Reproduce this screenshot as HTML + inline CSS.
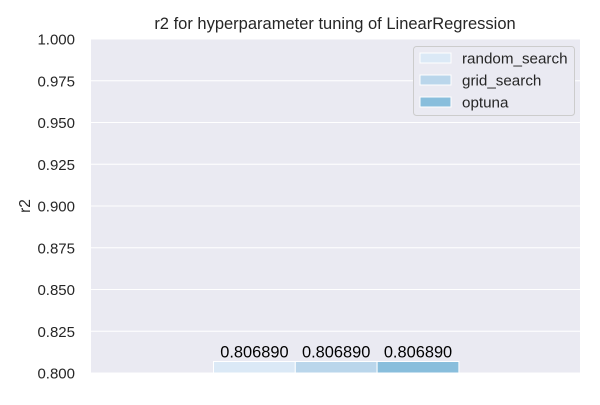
<!DOCTYPE html>
<html><head><meta charset="utf-8"><style>
body{margin:0;background:#fff;}
svg text{font-family:"Liberation Sans",sans-serif;}
</style></head><body>
<svg id="c" width="600" height="400" xmlns="http://www.w3.org/2000/svg">
<rect x="91" y="39" width="489" height="334" fill="#eaeaf2"/>
<g id="grid"></g>
<g id="bars"></g>
<text x="335" y="29" text-anchor="middle" font-size="16.5" fill="#262626">r2 for hyperparameter tuning of LinearRegression</text>
<text transform="translate(30,206) rotate(-90)" text-anchor="middle" font-size="15.5" fill="#262626">r2</text>
<g>
<rect x="413.5" y="46.5" width="161" height="69" rx="3" fill="#eaeaf2" stroke="#cccccc"/>
<g id="leg"></g>
</g>
</svg>
<script>
const categories=["random_search","grid_search","optuna"];
const values=[0.806890,0.806890,0.806890];
const labels=["0.806890","0.806890","0.806890"];
const ticks=[0.800,0.825,0.850,0.875,0.900,0.925,0.950,0.975,1.000];
const colors=["#dbe9f6","#bad6eb","#89bedc"];
const NS="http://www.w3.org/2000/svg";
const y0=373,y1=39,vmin=0.8,vmax=1.0;
function y(v){return y0-(v-vmin)/(vmax-vmin)*(y0-y1);}
const bx0=213.5,bw=81.8;
function x(i){return bx0+i*bw;}
function mk(t,a,p){const e=document.createElementNS(NS,t);for(const k in a)e.setAttribute(k,a[k]);p.appendChild(e);return e;}
const g=document.getElementById('grid');
ticks.forEach(t=>{
 const l=mk('line',{x1:91,x2:580,y1:y(t),y2:y(t),stroke:'#fff','stroke-width':1},g);
 
 
 const tx=mk('text',{x:75,y:y(t)+5.5,'text-anchor':'end','font-size':'15',fill:'#262626'},g);
 tx.textContent=t.toFixed(3);
 
 
});
const b=document.getElementById('bars');
values.forEach((v,i)=>{
 const r=mk('rect',{x:x(i),y:y(v),width:bw,height:y0-y(v),fill:colors[i],stroke:'#fff','stroke-width':1},b);
 
 
 const t=mk('text',{x:x(i)+bw/2,y:y(v)-4,'text-anchor':'middle','font-size':'16.4',fill:'#000'},b);
 t.textContent=labels[i];
 
 
});
const lg=document.getElementById('leg');
categories.forEach((c,i)=>{
 const yy=58+i*22;
 const r=mk('rect',{x:420,y:yy-5,width:31,height:10,fill:colors[i],stroke:'#fff','stroke-width':1},lg);
 
 
 const t=mk('text',{x:462,y:yy+5.5,'font-size':'15.2',fill:'#262626'},lg);
 t.textContent=c;
 
 
});
</script>
</body></html>
